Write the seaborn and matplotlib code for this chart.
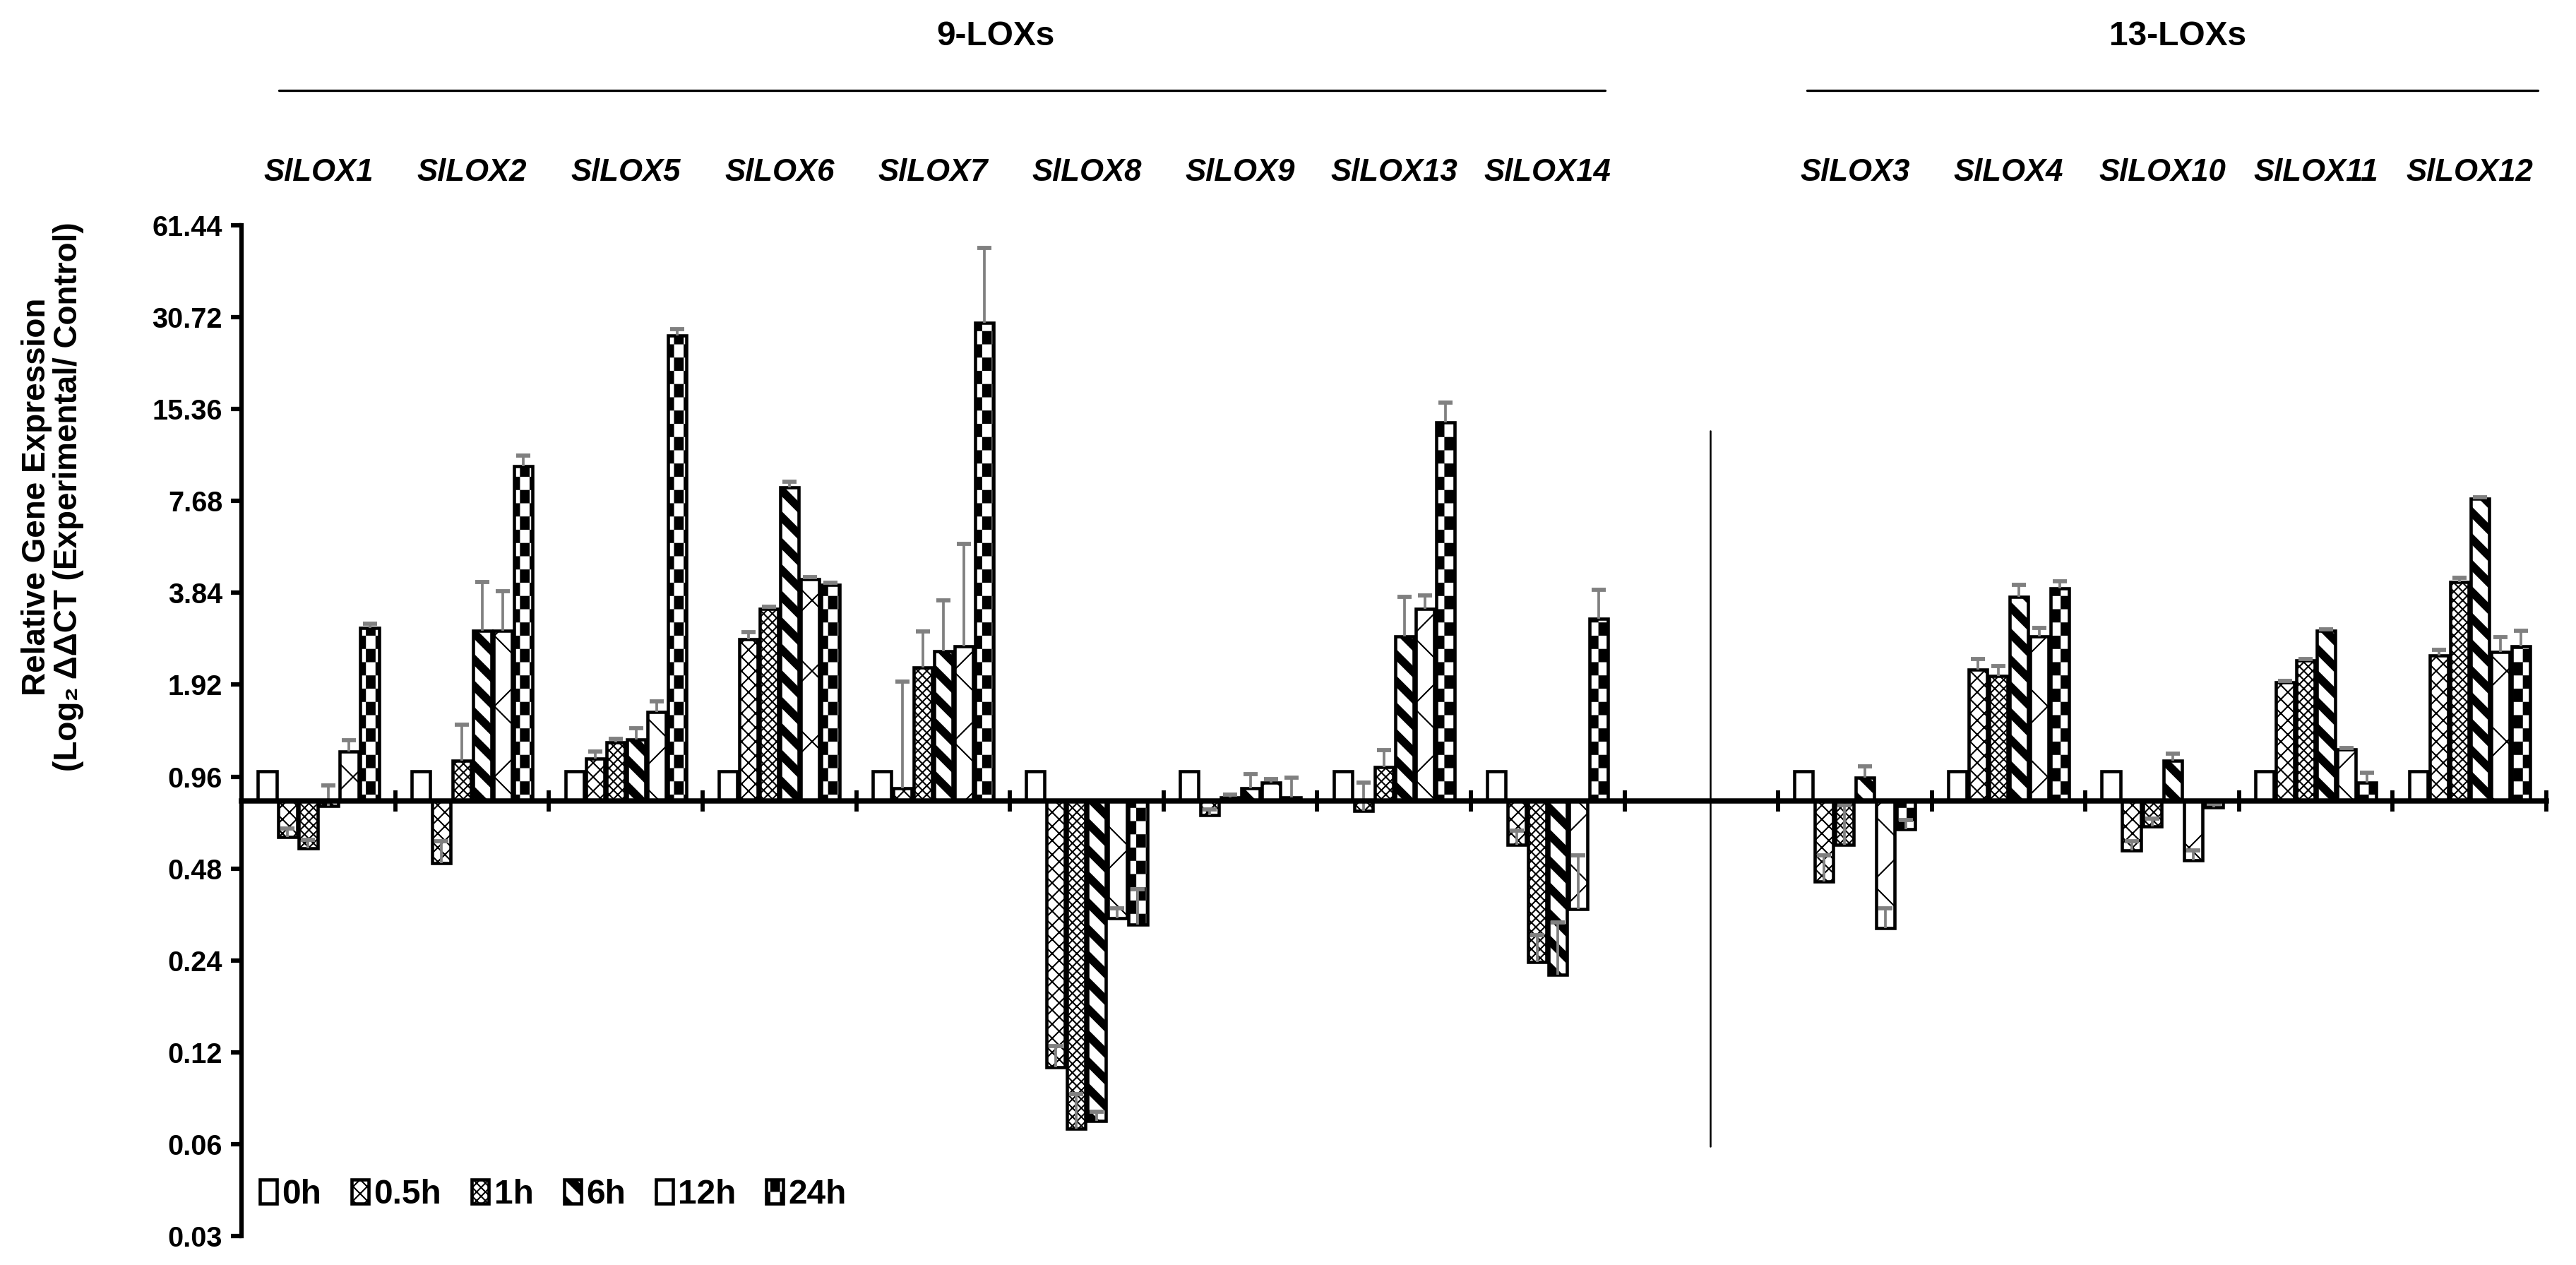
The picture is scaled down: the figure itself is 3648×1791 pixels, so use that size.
import numpy as np
import pandas as pd
import matplotlib
matplotlib.use('Agg')
import matplotlib.pyplot as plt
import matplotlib.hatch as mhatch
from matplotlib.path import Path
from matplotlib.patches import Patch
from matplotlib.ticker import FixedLocator, NullLocator
import seaborn as sns

# genes (a blank slot separates the two LOX families)
GENES_9 = ['SlLOX1', 'SlLOX2', 'SlLOX5', 'SlLOX6', 'SlLOX7', 'SlLOX8', 'SlLOX9', 'SlLOX13', 'SlLOX14']
GENES_13 = ['SlLOX3', 'SlLOX4', 'SlLOX10', 'SlLOX11', 'SlLOX12']
GENES = GENES_9 + GENES_13
ORDER = GENES_9 + [' '] + GENES_13
TIMES = ['0h', '0.5h', '1h', '6h', '12h', '24h']

# relative expression, one list per time point (same gene order as GENES)
h0 = [1.0, 1.0, 1.0, 1.0, 1.0, 1.0, 1.0, 1.0, 1.0, 1.0, 1.0, 1.0, 1.0, 1.0]
h05 = [0.61, 0.50, 1.10, 2.70, 0.88, 0.107, 0.72, 0.74, 0.575, 0.435, 2.15, 0.55, 1.96, 2.40]
h1 = [0.56, 1.08, 1.24, 3.40, 2.19, 0.0675, 0.82, 1.03, 0.237, 0.575, 2.05, 0.66, 2.31, 4.16]
h6 = [0.77, 2.88, 1.27, 8.5, 2.47, 0.0716, 0.88, 2.76, 0.215, 0.95, 3.73, 1.08, 2.88, 7.8]
h12 = [1.16, 2.88, 1.56, 4.26, 2.57, 0.33, 0.92, 3.40, 0.353, 0.306, 2.76, 0.51, 1.18, 2.46]
h24 = [2.95, 10.0, 26.8, 4.08, 29.4, 0.314, 0.82, 13.9, 3.16, 0.647, 3.98, 0.76, 0.92, 2.57]

# upper error bars
e0 = [0, 0, 0, 0, 0, 0, 0, 0, 0, 0, 0, 0, 0, 0]
e05 = [0.04, 0.09, 0.06, 0.15, 1.09, 0.019, 0.03, 0.18, 0.065, 0.095, 0.18, 0.04, 0.02, 0.10]
e1 = [0.035, 0.34, 0.04, 0.06, 0.68, 0.020, 0.02, 0.14, 0.053, 0.20, 0.16, 0.04, 0.02, 0.14]
e6 = [0.13, 1.28, 0.11, 0.40, 1.16, 0.005, 0.10, 0.97, 0.105, 0.09, 0.34, 0.06, 0.03, 0.10]
e12 = [0.10, 1.00, 0.13, 0.06, 3.0, 0.025, 0.02, 0.37, 0.177, 0.05, 0.18, 0.04, 0.01, 0.29]
e24 = [0.10, 0.80, 1.30, 0.07, 22.3, 0.096, 0.13, 2.2, 0.76, 0.045, 0.20, 0.02, 0.07, 0.31]

YTICKS = [0.03, 0.06, 0.12, 0.24, 0.48, 0.96, 1.92, 3.84, 7.68, 15.36, 30.72, 61.44]
YTICK_LABELS = ['0.03', '0.06', '0.12', '0.24', '0.48', '0.96', '1.92', '3.84', '7.68', '15.36', '30.72', '61.44']
BASE = 0.8  # where the category axis crosses

NARROW = ['Liberation Sans Narrow', 'Liberation Sans', 'DejaVu Sans']
WIDE = ['Liberation Sans', 'DejaVu Sans']


# Excel-like pattern fills: 'o' = wide downward diagonal, 'O' = large checkerboard
def checker_polys(nx=22, ny=16, shrink=0.0033):
    polys = []
    for i in range(nx):
        for j in range(ny):
            if (i + j) % 2 == 0:
                x0, x1 = i / nx + shrink, (i + 1) / nx - shrink
                y0, y1 = j / ny + shrink, (j + 1) / ny - shrink
                polys.append([(x0, y0), (x1, y0), (x1, y1), (x0, y1)])
    return polys


def stripe_polys(period=1 / 8, slope=1.0, frac=0.36):
    t = period * frac
    polys = []
    for k in range(-2, int((1 + slope) / period) + 3):
        c = k * period
        polys.append([(-0.1, c + 0.1 * slope - t / 2), (1.1, c - 1.1 * slope - t / 2),
                      (1.1, c - 1.1 * slope + t / 2), (-0.1, c + 0.1 * slope + t / 2)])
    return polys


CUSTOM_HATCH = {'O': checker_polys(), 'o': stripe_polys()}


class PatternFill(mhatch.HatchPatternBase):
    def __init__(self, hatch, density):
        self.polys = []
        for ch, polys in CUSTOM_HATCH.items():
            if ch in hatch:
                self.polys += polys
        self.num_vertices = sum(len(p) + 1 for p in self.polys)

    def set_vertices_and_codes(self, vertices, codes):
        i = 0
        for p in self.polys:
            n = len(p)
            vertices[i:i + n] = p
            vertices[i + n] = p[0]
            codes[i] = Path.MOVETO
            codes[i + 1:i + n] = Path.LINETO
            codes[i + n] = Path.CLOSEPOLY
            i += n + 1


mhatch._hatch_types = [h for h in mhatch._hatch_types
                       if h not in (mhatch.SmallCircles, mhatch.LargeCircles)] + [PatternFill]

HATCHES = ['', 'xxxxx', 'xxxxxxxx', 'o', 'x', 'O']

# long table for seaborn
values = [h0, h05, h1, h6, h12, h24]
errors = [e0, e05, e1, e6, e12, e24]
rows = []
for t, vals, errs in zip(TIMES, values, errors):
    for g, v, e in zip(GENES, vals, errs):
        rows.append({'gene': g, 'time': t, 'value': v, 'err': e})
df = pd.DataFrame(rows)
df['height'] = df['value'] - BASE
err_lookup = {(r.gene, r.time): r.err for r in df.itertuples()}

sns.set_style('ticks', {'axes.edgecolor': 'black', 'text.color': 'black',
                        'xtick.color': 'black', 'ytick.color': 'black'})
plt.rcParams['font.family'] = NARROW
plt.rcParams['hatch.linewidth'] = 0.5
plt.rcParams['hatch.color'] = 'black'

fig = plt.figure(figsize=(12.16, 5.97), dpi=300)
ax = fig.add_axes([0.0938, 0.0229, 0.8947, 0.7990])

sns.barplot(data=df, x='gene', y='height', hue='time', order=ORDER, hue_order=TIMES,
            palette={t: 'white' for t in TIMES}, width=0.8, gap=0.1, errorbar=None,
            bottom=BASE, edgecolor='black', linewidth=1.1, legend=False, ax=ax)

ax.set_yscale('log', base=2)
ax.set_ylim(YTICKS[0], YTICKS[-1])
ax.set_xlim(-0.5, len(ORDER) - 0.5)

# patterns and error bars, placed on the bars seaborn drew
slot = 0.8 / len(TIMES)
xs, ys, es = [], [], []
for p in ax.patches:
    xc = p.get_x() + p.get_width() / 2
    ci = int(round(xc))
    ti = int(round((xc - ci + 0.4) / slot - 0.5))
    p.set_hatch(HATCHES[ti])
    e = err_lookup[(ORDER[ci], TIMES[ti])]
    if e > 0:
        xs.append(xc)
        ys.append(p.get_y() + p.get_height())
        es.append(e)
eb = ax.errorbar(xs, ys, yerr=[np.zeros(len(es)), es], fmt='none', ecolor='#808080',
                 elinewidth=0.9, capsize=2.4, capthick=1.4, zorder=3)
eb.lines[1][0].set_visible(False)

# axes
for side in ['top', 'right']:
    ax.spines[side].set_visible(False)
ax.spines['left'].set_linewidth(1.5)
ax.spines['bottom'].set_position(('data', BASE))
ax.spines['bottom'].set_linewidth(1.8)
ax.spines['bottom'].set_zorder(4)

ax.set_yticks(YTICKS, labels=YTICK_LABELS, fontsize=9.5, fontweight='bold', family=NARROW)
ax.yaxis.set_minor_locator(NullLocator())
ax.tick_params(axis='y', which='major', direction='out', length=3.5, width=1.5, pad=3)

ax.xaxis.set_minor_locator(FixedLocator(np.arange(-0.5, len(ORDER), 1)))
ax.tick_params(axis='x', which='major', bottom=False, top=False, labelbottom=False, labeltop=False)
ax.tick_params(axis='x', which='minor', bottom=True, top=False, direction='inout', length=7, width=1.4)
ax.set_xlabel('')
ax.set_ylabel('')

# gene names above the plot
xaxis_tr = ax.get_xaxis_transform()
for i, g in enumerate(ORDER):
    ax.text(i, 1.052, g, transform=xaxis_tr, ha='center', va='center', fontsize=10.5,
            fontweight='bold', fontstyle='italic', family=NARROW)

# family headers
ax.text(4.41, 1.187, '9-LOXs', transform=xaxis_tr, ha='center', va='center',
        fontsize=11.5, fontweight='bold', family=NARROW)
ax.plot([-0.256, 8.374], [1.1335, 1.1335], transform=xaxis_tr, color='black', lw=0.8, clip_on=False)
ax.text(12.1, 1.187, '13-LOXs', transform=xaxis_tr, ha='center', va='center',
        fontsize=11.5, fontweight='bold', family=NARROW)
ax.plot([9.688, 14.445], [1.1335, 1.1335], transform=xaxis_tr, color='black', lw=0.8, clip_on=False)

# separator between families
ax.plot([9.06, 9.06], [0.059, 13.0], color='black', lw=0.6)

fig.text(0.0204, 0.6075, 'Relative Gene Expression\n(Log\u2082 \u0394\u0394CT (Experimental/ Control)',
         rotation=90, ha='center', va='center', multialignment='center', fontsize=11,
         fontweight='bold', family=WIDE, linespacing=1.05)

handles = [Patch(facecolor='white', edgecolor='black', hatch=h, linewidth=1.1, label=t)
           for t, h in zip(TIMES, HATCHES)]
ax.legend(handles=handles, loc='center left', bbox_to_anchor=(0.008, 0.041), ncol=6,
          frameon=False, handlelength=0.5, handleheight=0.7, handletextpad=0.15,
          columnspacing=0.9, borderaxespad=0, borderpad=0,
          prop={'family': NARROW, 'weight': 'bold', 'size': 11.5})

fig.savefig('out.png', dpi=300)
